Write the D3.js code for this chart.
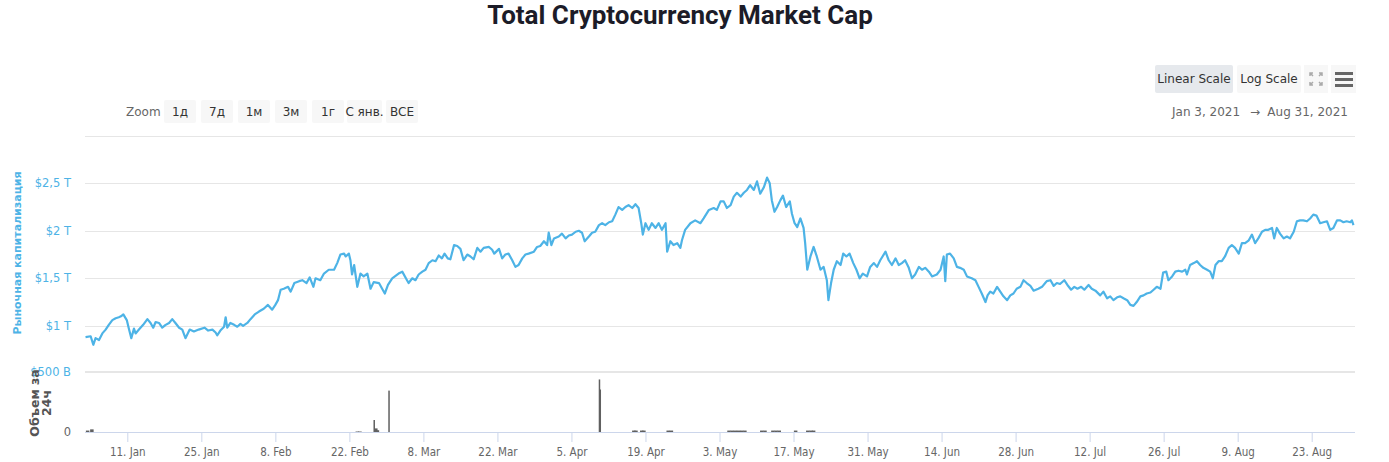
<!DOCTYPE html>
<html><head><meta charset="utf-8">
<script src="https://cdn.jsdelivr.net/npm/d3@7"></script>
<style>
body{margin:0;background:#fff;}
svg{display:block;}
</style></head>
<body>
<svg id="chart" width="1389" height="462"></svg>
<script>
// ---- data ----
const startDate = "2021-01-03";
const endDate = "2021-08-31";
// days since start date (fractional) and total market cap in trillions USD
const capDays = [0.1,1.07,1.57,2.0,2.65,3.28,3.9,4.5,5.17,5.8,6.4,6.8,7.25,7.9,8.3,8.76,9.26,9.57,10.2,11.0,11.8,12.4,12.9,13.36,14.0,14.6,15.25,15.9,16.5,17.1,17.8,18.4,19.0,19.8,20.6,21.5,22.6,23.3,24.1,24.7,25.0,25.6,26.3,26.6,26.9,27.5,28.2,28.8,29.4,29.9,30.7,31.3,32.1,32.9,33.8,34.6,35.4,36.0,36.5,37.0,37.6,38.4,38.9,39.6,40.5,41.1,41.9,42.5,43.2,43.6,44.5,45.2,46.1,47.1,47.7,48.3,49.0,49.3,49.9,50.2,50.5,50.9,51.5,52.1,52.7,53.4,54.0,54.6,55.6,56.2,56.7,57.3,58.1,59.3,60.0,
60.9,61.2,61.9,62.5,63.1,63.8,64.4,65.0,65.7,66.3,66.9,67.5,68.0,68.6,69.1,69.8,70.4,71.0,71.6,72.3,72.9,73.5,74.2,74.8,75.4,76.4,77.0,77.4,78.3,78.9,79.5,80.1,80.8,81.4,82.0,82.7,83.3,83.9,84.9,85.5,86.1,86.8,87.4,87.7,88.2,88.7,89.6,90.2,90.9,91.5,92.1,92.8,93.4,94.0,94.5,95.3,95.9,96.5,97.2,97.8,98.4,99.1,99.7,100.3,100.9,101.6,102.2,102.8,103.5,104.1,104.7,105.2,105.5,106.0,106.6,107.2,107.9,108.5,109.1,109.8,110.1,110.7,111.3,112.0,112.6,112.9,113.5,114.5,115.4,116.4,117.0,118.0,118.9,119.5,120.2,
120.8,121.4,122.1,122.7,123.3,124.0,124.6,125.2,125.8,126.5,127.1,127.7,128.4,129.0,129.5,129.9,130.4,130.9,131.5,132.0,132.6,133.3,133.7,134.2,134.7,135.3,135.9,136.2,136.6,137.2,137.8,138.4,139.1,139.7,140.3,140.6,141.1,141.6,142.2,142.9,143.4,144.0,144.6,145.3,145.9,146.5,147.1,147.9,148.5,149.2,149.8,150.4,151.4,152.0,152.6,153.3,153.9,154.5,155.1,155.8,156.4,157.0,157.7,158.3,158.9,159.6,160.2,161.1,161.8,162.4,162.7,163.0,163.6,164.3,164.9,165.5,166.2,166.8,167.7,168.4,169.0,169.6,170.3,170.7,171.2,171.8,172.5,173.1,173.7,174.4,175.0,175.6,176.2,176.9,177.5,178.1,178.8,179.4,180.3,181.0,
181.6,181.9,182.6,183.2,183.8,184.4,185.2,185.8,186.5,187.1,187.7,188.4,189.0,189.8,190.4,191.1,192.0,192.6,193.3,193.9,194.5,195.2,195.8,196.4,197.1,197.7,198.3,198.9,199.6,200.2,200.8,201.5,202.1,202.7,203.4,203.9,204.5,204.9,205.6,206.2,206.8,207.5,208.1,208.4,209.0,209.7,210.3,210.9,211.5,212.2,212.8,213.3,213.8,214.4,215.0,215.6,216.3,216.9,217.5,218.2,218.8,219.4,220.1,220.7,221.3,221.9,222.6,223.2,223.8,224.5,224.9,225.4,226.0,226.7,227.3,227.9,228.6,229.2,229.8,230.4,231.1,231.7,232.3,232.9,233.6,234.2,234.9,235.5,236.1,236.8,237.4,238.0,238.6,239.3,239.6,239.9];
const capValues = [0.88,0.89,0.80,0.87,0.85,0.92,0.96,1.01,1.06,1.08,1.09,1.10,1.12,1.06,0.97,0.87,0.97,0.92,0.96,1.01,1.07,1.03,0.98,1.04,1.03,0.98,1.01,1.03,1.07,1.03,0.98,0.96,0.87,0.96,0.94,0.96,0.98,0.95,0.96,0.93,0.90,0.95,0.99,1.09,0.98,1.03,1.01,0.99,1.02,1.00,1.03,1.07,1.12,1.15,1.18,1.22,1.17,1.22,1.27,1.38,1.39,1.41,1.36,1.45,1.47,1.48,1.45,1.51,1.41,1.50,1.48,1.55,1.59,1.59,1.66,1.75,1.76,1.73,1.76,1.69,1.54,1.64,1.41,1.55,1.52,1.55,1.39,1.46,1.45,1.39,1.34,1.43,1.50,1.55,1.57,
1.48,1.45,1.50,1.48,1.54,1.57,1.59,1.66,1.69,1.68,1.74,1.71,1.76,1.71,1.70,1.85,1.84,1.81,1.69,1.75,1.73,1.70,1.82,1.78,1.82,1.83,1.80,1.76,1.81,1.71,1.75,1.76,1.69,1.62,1.64,1.71,1.75,1.76,1.78,1.83,1.84,1.89,1.85,1.98,1.85,1.92,1.94,1.97,1.92,1.95,1.96,1.99,2.00,1.98,1.89,1.94,1.98,1.99,2.06,2.08,2.06,2.09,2.10,2.17,2.25,2.22,2.25,2.27,2.24,2.28,2.24,2.08,1.96,2.08,2.01,2.08,2.03,2.08,2.01,2.08,1.78,1.89,1.85,1.87,1.82,1.90,2.01,2.08,2.11,2.08,2.13,2.22,2.24,2.22,2.31,
2.31,2.24,2.27,2.36,2.40,2.36,2.40,2.43,2.48,2.43,2.52,2.39,2.46,2.56,2.50,2.32,2.20,2.25,2.32,2.37,2.25,2.31,2.18,2.08,2.04,2.13,2.03,1.87,1.59,1.73,1.83,1.73,1.59,1.62,1.48,1.27,1.45,1.59,1.68,1.64,1.76,1.73,1.76,1.66,1.59,1.50,1.55,1.52,1.62,1.66,1.62,1.69,1.78,1.69,1.64,1.71,1.64,1.66,1.69,1.61,1.50,1.54,1.62,1.59,1.61,1.57,1.52,1.54,1.59,1.73,1.47,1.75,1.76,1.71,1.62,1.61,1.59,1.52,1.50,1.48,1.41,1.34,1.25,1.32,1.36,1.34,1.41,1.36,1.31,1.27,1.32,1.34,1.39,1.41,1.48,1.45,1.42,1.37,1.39,1.41,
1.45,1.47,1.48,1.42,1.45,1.44,1.48,1.43,1.38,1.41,1.39,1.41,1.38,1.43,1.39,1.37,1.32,1.36,1.29,1.31,1.27,1.30,1.31,1.29,1.27,1.22,1.21,1.25,1.31,1.32,1.34,1.35,1.38,1.41,1.39,1.56,1.57,1.48,1.52,1.57,1.58,1.57,1.59,1.54,1.64,1.66,1.68,1.64,1.61,1.59,1.57,1.50,1.64,1.68,1.68,1.73,1.82,1.85,1.82,1.76,1.87,1.87,1.90,1.96,1.87,1.92,1.99,2.01,2.01,2.03,1.92,2.03,1.97,1.92,1.94,1.92,1.99,2.10,2.11,2.11,2.10,2.13,2.17,2.16,2.08,2.09,2.10,2.01,2.03,2.11,2.11,2.09,2.10,2.09,2.11,2.06];
// 24h volume (billions USD), sparse
const volDays = [0.5,1.3,51.5,52.0,54.7,55.0,55.3,57.5,97.3,97.45,103.8,104.2,105.3,105.7,110.3,110.9,121.8,122.4,123.0,123.6,124.2,124.8,128.0,128.6,130.1,130.7,131.3,134.4,136.7,137.3,137.8];
const volValues = [12,22,4,4,100,30,15,345,438,354,12,12,12,12,12,12,12,12,12,12,12,12,12,12,12,12,12,12,12,12,12];
const capTicks = [1,1.5,2,2.5];
const capGrid = [1,1.5,2,2.5,3];
const volTicks = [0,500];
const xTickDates = ["2021-01-11","2021-01-25","2021-02-08","2021-02-22","2021-03-08","2021-03-22","2021-04-05","2021-04-19","2021-05-03","2021-05-17","2021-05-31","2021-06-14","2021-06-28","2021-07-12","2021-07-26","2021-08-09","2021-08-23"];
const zoomButtons = ["1д","7д","1м","3м","1г","С янв.","ВСЕ"];
const scaleButtons = ["Linear Scale","Log Scale"];
const titleText = "Total Cryptocurrency Market Cap";
const rangeText = ["Jan 3, 2021","→","Aug 31, 2021"];

// ---- drawing ----
const svg = d3.select("#chart");
const parse = d3.utcParse("%Y-%m-%d");
const t0 = parse(startDate), t1 = parse(endDate);
const toDate = d => new Date(t0.getTime() + d * 864e5);

const left = 85, right = 1354;
const x = d3.scaleUtc().domain([t0, t1]).range([left, right]);
const y = d3.scaleLinear().domain([0.5, 3]).range([373.3, 135.8]);
const yv = d3.scaleLinear().domain([0, 500]).range([432, 372]);

const loc = d3.formatLocale({decimal: ",", thousands: " ", grouping: [3], currency: ["$", ""]});
const fmtT = v => "$" + loc.format("~g")(v) + " T";
const fmtB = v => v === 0 ? "0" : "$" + v + " B";
const blue = "#4db3e6";
const font = "'DejaVu Sans', sans-serif";

// title
svg.append("text").attr("x", 680).attr("y", 24).attr("text-anchor", "middle")
  .attr("font-family", "Roboto, sans-serif").attr("font-weight", 700).attr("font-size", 26)
  .attr("fill", "#1c1c28").text(titleText);

// gridlines main
svg.append("g").selectAll("line").data(capGrid).join("line")
  .attr("x1", left).attr("x2", right + 1).attr("y1", d => Math.round(y(d)) + 0.5).attr("y2", d => Math.round(y(d)) + 0.5)
  .attr("stroke", "#e6e6e6");
// volume top grid
svg.append("line").attr("x1", left).attr("x2", right + 1).attr("y1", yv(500)).attr("y2", yv(500))
  .attr("stroke", "#e6e6e6").attr("stroke-width", 2);

// main y axis
const ay = svg.append("g").attr("transform", `translate(${left - 11},0)`)
  .call(d3.axisLeft(y).tickValues(capTicks).tickFormat(fmtT).tickSize(0));
ay.select(".domain").remove();
ay.selectAll("text").attr("fill", blue).attr("font-family", font).attr("font-size", 11.5);

const av = svg.append("g").attr("transform", `translate(${left - 11},0)`)
  .call(d3.axisLeft(yv).tickValues(volTicks).tickFormat(fmtB).tickSize(0));
av.select(".domain").remove();
av.selectAll("text").attr("fill", d => d === 0 ? "#666" : blue).attr("font-family", font).attr("font-size", 11.5);

// axis titles
svg.append("text").attr("transform", "translate(21,253) rotate(-90)").attr("text-anchor", "middle")
  .attr("font-family", font).attr("font-weight", 700).attr("font-size", 11).attr("fill", blue)
  .text("Рыночная капитализация");
const vt = svg.append("text").attr("transform", "translate(40,403) rotate(-90)").attr("text-anchor", "middle")
  .attr("font-family", font).attr("font-weight", 700).attr("font-size", 12.5).attr("fill", "#555");
vt.append("tspan").attr("x", 0).attr("dy", -1).text("Объем за");
vt.append("tspan").attr("x", 0).attr("dy", 12).text("24ч");

// volume bars
const vol = volDays.map((d, i) => ({t: toDate(d), v: volValues[i]}));
svg.append("g").selectAll("rect").data(vol).join("rect")
  .attr("x", d => x(d.t) - (d.v > 50 ? 0.75 : 1.75)).attr("width", d => d.v > 50 ? 1.5 : 3.5)
  .attr("y", d => yv(d.v)).attr("height", d => yv(0) - yv(d.v))
  .attr("fill", "#606060");

// x axis
const ax = svg.append("g").attr("transform", "translate(0,432)")
  .call(d3.axisBottom(x).tickValues(xTickDates.map(parse)).tickFormat(d3.utcFormat("%-d. %b")).tickSize(10).tickPadding(6));
ax.select(".domain").attr("stroke", "#ccd6eb").attr("d", `M${left},0.5H${right + 1}`);
ax.selectAll(".tick line").attr("stroke", "#ccd6eb");
ax.selectAll("text").attr("fill", "#666").attr("font-family", "'DejaVu Sans Condensed', 'DejaVu Sans', sans-serif").attr("font-size", 11.5);

// line
const pts = capDays.map((d, i) => ({t: toDate(d), v: capValues[i]}));
svg.append("path").datum(pts)
  .attr("d", d3.line().x(d => x(d.t)).y(d => y(d.v)))
  .attr("fill", "none").attr("stroke", blue).attr("stroke-width", 2.2).attr("stroke-linejoin", "round");

// zoom buttons
const zb = svg.append("g").attr("font-family", font).attr("font-size", 12);
zb.append("text").attr("x", 126).attr("y", 116).attr("fill", "#666").text("Zoom");
const bx = [164, 201, 238, 275, 312, 347, 386];
const bw = [32, 32, 32, 32, 32, 35, 32];
zoomButtons.forEach((b, i) => {
  zb.append("rect").attr("x", bx[i]).attr("y", 100).attr("width", bw[i]).attr("height", 23).attr("rx", 2).attr("fill", "#f7f7f7");
  zb.append("text").attr("x", bx[i] + bw[i] / 2).attr("y", 116).attr("text-anchor", "middle").attr("fill", "#333").text(b);
});

// scale buttons
const sb = svg.append("g").attr("font-family", font).attr("font-size", 12);
const sx = [1155, 1237], sw = [78, 64];
scaleButtons.forEach((b, i) => {
  sb.append("rect").attr("x", sx[i]).attr("y", 65).attr("width", sw[i]).attr("height", 28).attr("rx", 2)
    .attr("fill", i === 0 ? "#e6e9ed" : "#f7f7f7");
  sb.append("text").attr("x", sx[i] + sw[i] / 2).attr("y", 83).attr("text-anchor", "middle").attr("fill", "#333").text(b);
});
// fullscreen icon
sb.append("rect").attr("x", 1304).attr("y", 65).attr("width", 24).attr("height", 28).attr("fill", "#f7f7f7");
const fi = sb.append("g").attr("stroke", "#aaa").attr("stroke-width", 1.5).attr("fill", "none");
[[1310,73,1,1],[1322,73,-1,1],[1310,85,1,-1],[1322,85,-1,-1]].forEach(([cx, cy, dx, dy]) => {
  fi.append("path").attr("d", `M${cx},${cy + 3 * dy}V${cy}H${cx + 3 * dx}M${cx},${cy}L${cx + 3 * dx},${cy + 3 * dy}`);
});
// menu icon
sb.append("rect").attr("x", 1331).attr("y", 65).attr("width", 25).attr("height", 28).attr("fill", "#f7f7f7");
[72, 78, 84].forEach(yy => sb.append("rect").attr("x", 1335).attr("y", yy).attr("width", 18).attr("height", 3).attr("fill", "#666"));

// date range
const rg = svg.append("g").attr("font-family", font).attr("font-size", 12).attr("fill", "#666");
rg.append("text").attr("x", 1172).attr("y", 116).text(rangeText[0]);
rg.append("text").attr("x", 1255).attr("y", 116).attr("text-anchor", "middle").text(rangeText[1]);
rg.append("text").attr("x", 1348).attr("y", 116).attr("text-anchor", "end").text(rangeText[2]);
</script>
</body></html>
